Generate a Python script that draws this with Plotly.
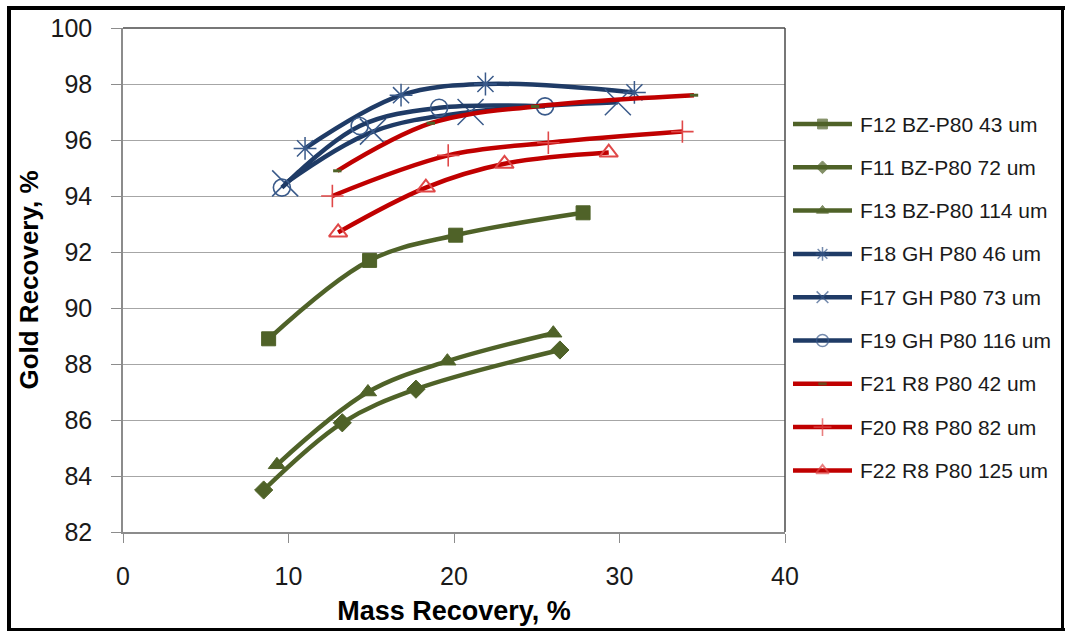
import plotly.graph_objects as go

# ---- data ----
series_names = ["F12 BZ-P80 43 um", "F11 BZ-P80 72 um", "F13 BZ-P80 114 um",
                "F18 GH P80 46 um", "F17 GH P80 73 um", "F19 GH P80 116 um",
                "F21 R8 P80 42 um", "F20 R8 P80 82 um", "F22 R8 P80 125 um"]

f12_x = [8.8, 14.9, 20.1, 27.8]
f12_y = [88.9, 91.7, 92.6, 93.4]
f11_x = [8.5, 13.25, 17.7, 26.4]
f11_y = [83.5, 85.9, 87.1, 88.5]
f13_x = [9.3, 14.8, 19.6, 26.0]
f13_y = [84.4, 87.0, 88.1, 89.1]
f18_x = [11.0, 16.8, 21.9, 30.9]
f18_y = [95.7, 97.6, 98.0, 97.7]
f17_x = [9.8, 15.1, 21.0, 29.9]
f17_y = [94.45, 96.3, 97.0, 97.35]
f19_x = [9.6, 14.3, 19.1, 25.5]
f19_y = [94.3, 96.5, 97.15, 97.2]
f21_x = [12.95, 18.6, 24.9, 34.5]
f21_y = [94.9, 96.6, 97.2, 97.6]
f20_x = [12.65, 19.65, 25.7, 33.8]
f20_y = [94.0, 95.45, 95.9, 96.3]
f22_x = [13.0, 18.3, 23.05, 29.35]
f22_y = [92.7, 94.3, 95.15, 95.55]

x_ticks = [0, 10, 20, 30, 40]
y_ticks = [82, 84, 86, 88, 90, 92, 94, 96, 98, 100]

GREEN = "#4F6228"
BLUE = "#1F3B66"
BLUE_M = "#3A5A8A"
RED = "#C00000"
RED_M = "#E04848"

W, H = 1065, 631
L, T, R, B = 123, 28, 785, 532      # plot area in pixels
PAPER_W = W - L                     # margin r = 0 -> paper spans to right edge
PH = B - T

def fx(px):
    return (px - L) / PAPER_W

def fy(py):
    return (B - py) / PH

styles = [
    (f12_x, f12_y, GREEN, dict(symbol="square", size=14, color=GREEN, line=dict(color=GREEN, width=1))),
    (f11_x, f11_y, GREEN, dict(symbol="diamond", size=14, color=GREEN, line=dict(color=GREEN, width=1))),
    (f13_x, f13_y, GREEN, dict(symbol="triangle-up", size=15, color=GREEN, line=dict(color=GREEN, width=1))),
    (f18_x, f18_y, BLUE, dict(symbol="asterisk-open", size=19, color=BLUE_M, line=dict(color=BLUE_M, width=1.5))),
    (f17_x, f17_y, BLUE, dict(symbol="x-thin-open", size=26, color=BLUE_M, line=dict(color=BLUE_M, width=1.5))),
    (f19_x, f19_y, BLUE, dict(symbol="circle-open", size=17, color=BLUE_M, line=dict(color=BLUE_M, width=1.6))),
    (f21_x, f21_y, RED, dict(symbol="line-ew-open", size=6, color=GREEN, line=dict(color=GREEN, width=3))),
    (f20_x, f20_y, RED, dict(symbol="cross-thin-open", size=16, color=RED_M, line=dict(color=RED, width=1.6))),
    (f22_x, f22_y, RED, dict(symbol="triangle-up-open", size=16, color=RED_M, line=dict(color=RED_M, width=2))),
]
legend_marker_scale = [0.7, 0.7, 0.7, 0.6, 0.45, 0.7, 1.0, 0.8, 0.7]

FONT = "Liberation Sans, Arial, sans-serif"

fig = go.Figure()
for i, (name, (xs, ys, lc, mk)) in enumerate(zip(series_names, styles)):
    fig.add_trace(go.Scatter(
        x=xs, y=ys, name=name, mode="lines+markers",
        line=dict(color=lc, width=4.5, shape="spline", smoothing=1.0),
        marker=mk, cliponaxis=False, showlegend=False,
    ))

# ---- legend drawn on an auxiliary pixel-scaled axis pair ----
LEG_X0, LEG_X1, LEG_TX = 793, 852, 858
LEG_Y0, LEG_DY = 124, 43.3
annotations = []
for i, (name, (xs, ys, lc, mk)) in enumerate(zip(series_names, styles)):
    yy = LEG_Y0 + LEG_DY * i
    mk2 = dict(mk)
    mk2["size"] = [0, mk["size"] * legend_marker_scale[i], 0]
    fig.add_trace(go.Scatter(
        x=[LEG_X0, (LEG_X0 + LEG_X1) / 2, LEG_X1], y=[yy, yy, yy],
        xaxis="x2", yaxis="y2", mode="lines+markers",
        line=dict(color=lc, width=4.5), marker=mk2,
        showlegend=False, hoverinfo="skip", cliponaxis=False,
    ))
    annotations.append(dict(
        x=LEG_TX, y=yy, xref="x2", yref="y2", text=name, showarrow=False,
        xanchor="left", yanchor="middle",
        font=dict(family=FONT, size=21, color="#1A1A1A"),
    ))

shapes = [
    # plot-area border top and right
    dict(type="line", xref="x domain", yref="y domain", x0=0, x1=1, y0=1, y1=1,
         line=dict(color="#4A4A4A", width=1.5), layer="above"),
    dict(type="line", xref="x domain", yref="y domain", x0=1, x1=1, y0=0, y1=1,
         line=dict(color="#4A4A4A", width=1.5), layer="above"),
    # outer black frame
    dict(type="line", xref="paper", yref="paper", x0=fx(9), x1=fx(9), y0=fy(6), y1=fy(640),
         line=dict(color="#000000", width=4)),
    dict(type="line", xref="paper", yref="paper", x0=fx(7), x1=fx(1070), y0=fy(8), y1=fy(8),
         line=dict(color="#000000", width=4)),
    dict(type="line", xref="paper", yref="paper", x0=fx(7), x1=fx(1070), y0=fy(630), y1=fy(630),
         line=dict(color="#000000", width=4)),
    dict(type="line", xref="paper", yref="paper", x0=fx(1062.5), x1=fx(1062.5), y0=fy(6), y1=fy(640),
         line=dict(color="#000000", width=3)),
]

fig.update_layout(
    width=W, height=H, autosize=False,
    margin=dict(l=L, r=0, t=T, b=H - B, pad=0, autoexpand=False),
    paper_bgcolor="white", plot_bgcolor="white",
    font=dict(family=FONT, color="#1A1A1A"),
    shapes=shapes, annotations=annotations,
    showlegend=False,
    xaxis=dict(
        domain=[0, fx(R)],
        range=[0, 40], tickvals=x_ticks, ticktext=[str(v) for v in x_ticks],
        showgrid=False, zeroline=False,
        showline=True, linecolor="#8C8C8C", linewidth=1.5,
        ticks="outside", ticklen=9, tickcolor="#8C8C8C", tickwidth=1.3,
        tickfont=dict(family=FONT, size=25, color="#1A1A1A"),
        ticklabelstandoff=12,
        title=dict(text="<b>Mass Recovery, %</b>", font=dict(family=FONT, size=27, color="#000"),
                   standoff=12),
    ),
    yaxis=dict(
        range=[82, 100], tickvals=y_ticks, ticktext=[str(v) for v in y_ticks],
        showgrid=True, gridcolor="#A6A6A6", gridwidth=1.3,
        zeroline=False,
        showline=True, linecolor="#8C8C8C", linewidth=1.5,
        ticks="outside", ticklen=10, tickcolor="#8C8C8C", tickwidth=1.3,
        tickfont=dict(family=FONT, size=25, color="#1A1A1A"),
        ticklabelstandoff=14,
        title=dict(text="<b>Gold Recovery, %</b>", font=dict(family=FONT, size=26, color="#000"),
                   standoff=4),
    ),
    xaxis2=dict(domain=[fx(787), 1], range=[787, W], anchor="y2", visible=False, fixedrange=True),
    yaxis2=dict(domain=[0, 1], range=[B, T], anchor="x2", visible=False, fixedrange=True),
)

fig.write_html("out.html")
